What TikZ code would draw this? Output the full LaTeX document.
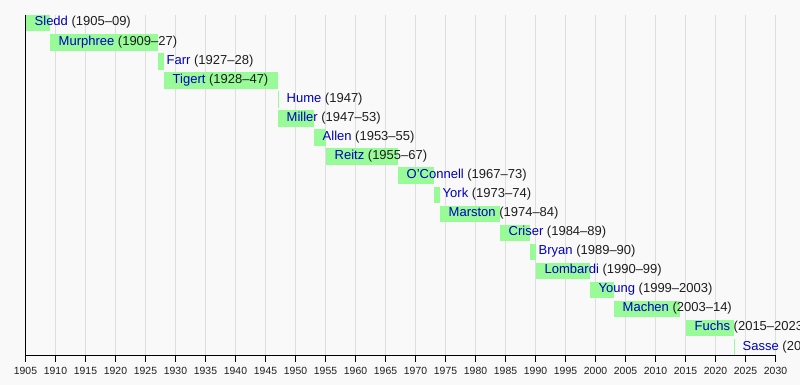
\documentclass[tikz,border=0pt]{standalone}
\usepackage{fontspec}
\setmainfont{Liberation Sans}
\definecolor{barg}{RGB}{152,251,152}
\definecolor{namec}{RGB}{0,0,190}
\definecolor{gridc}{RGB}{222,222,222}
\definecolor{bgc}{RGB}{249,249,249}
\definecolor{yearc}{RGB}{30,30,30}
\tikzset{
  barbox/.style={fill=barg, draw=none},
  lbl/.style={anchor=base west, inner sep=0pt, font=\fontsize{13}{15}\selectfont, text=yearc},
  ticklbl/.style={anchor=base, inner sep=0pt, font=\fontsize{10.4}{12}\selectfont, text=yearc},
  gridln/.style={draw=gridc, line width=1pt},
  axisln/.style={draw=black, line width=1pt}
}
\begin{document}
\begin{tikzpicture}[x=1pt,y=-1pt]
\useasboundingbox (0,0) rectangle (800,385);
\clip (0,0) rectangle (800,385);
\fill[bgc] (0,0) rectangle (800,385);
% grid lines
\foreach \yr in {1910,1915,...,2030}
  \draw[gridln] ({25.5+6*(\yr-1905)},15) -- ({25.5+6*(\yr-1905)},355.5);
% bars and labels
\foreach \i/\nm/\yrs/\s/\e in {
  1/Sledd/(1905–09)/1905/1909,
  2/Murphree/(1909–27)/1909/1927,
  3/Farr/(1927–28)/1927/1928,
  4/Tigert/(1928–47)/1928/1947,
  5/Hume/(1947)/1947/1947.15,
  6/Miller/(1947–53)/1947/1953,
  7/Allen/(1953–55)/1953/1955,
  8/Reitz/(1955–67)/1955/1967,
  9/O'Connell/(1967–73)/1967/1973,
  10/York/(1973–74)/1973/1974,
  11/Marston/(1974–84)/1974/1984,
  12/Criser/(1984–89)/1984/1989,
  13/Bryan/(1989–90)/1989/1990,
  14/Lombardi/(1990–99)/1990/1999,
  15/Young/(1999–2003)/1999/2003,
  16/Machen/(2003–14)/2003/2014,
  17/Fuchs/(2015–2023)/2015/2023,
  18/Sasse/(2023–24)/2023/2023.15}
{
  \pgfmathsetmacro{\xs}{25.5+6*(\s-1905)}
  \pgfmathsetmacro{\xe}{25.5+6*(\e-1905)}
  \pgfmathsetmacro{\yt}{15+19.06*(\i-1)}
  \fill[barbox] (\xs,\yt) rectangle (\xe,\yt+16.5);
  \node[lbl] (n\i) at (\xs+9,\yt+11) {\textcolor{namec}{\nm} \yrs};
}
% axes
\draw[axisln] (25.5,15) -- (25.5,355.5) -- (775.5,355.5);
\foreach \yr in {1905,1910,...,2030}{
  \draw[axisln] ({25.5+6*(\yr-1905)},355.5) -- ({25.5+6*(\yr-1905)},361.5);
  \node[ticklbl] (t\yr) at ({25.5+6*(\yr-1905)},374) {\yr};
}
\end{tikzpicture}
\end{document}
